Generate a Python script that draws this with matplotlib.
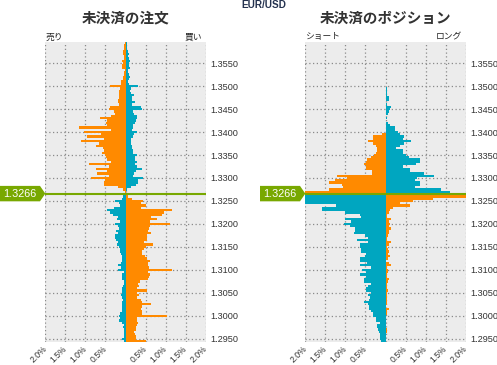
import numpy as np
import matplotlib.pyplot as plt
from matplotlib.patches import Polygon
from matplotlib.transforms import blended_transform_factory

plt.rcParams['font.family'] = ['Liberation Sans', 'Noto Sans CJK JP', 'DejaVu Sans']
JP = ['Noto Sans CJK JP', 'DejaVu Sans']

# ---- data -------------------------------------------------------------
current_price = 1.3266
step = 0.0005
# price buckets, listed from the top of the chart downwards
prices_above = np.round(np.arange(1.3595, 1.32695, -step), 4)   # 1.3595 .. 1.3270
prices_below = np.round(np.arange(1.3260, 1.29445, -step), 4)   # 1.3260 .. 1.2945

# open orders (%), left side = sell, right side = buy
order_sell_above = [0.02, 0.03, 0.03,
                    0.04, 0.06, 0.06, 0.03, 0.04, 0.08, 0.06, 0.08, 0.09, 0.02,
                    0.03, 0.04, 0.06, 0.06, 0.10, 0.12, 0.38, 0.13, 0.15, 0.15,
                    0.15, 0.17, 0.18, 0.18, 0.17, 0.39, 0.40, 0.29, 0.27, 0.35,
                    0.63, 0.45, 0.48, 0.45, 1.15, 0.36, 1.03, 0.60,
                    0.96, 0.54, 1.10,
                    0.65, 0.73, 0.56, 0.54, 0.58, 0.52, 0.49, 0.46, 0.35, 0.90,
                    0.40, 0.73, 0.46, 0.70, 0.40, 0.85, 0.51, 0.54, 0.53, 0.19,
                    0.05, 0.01]
order_buy_above = [0.03, 0.04, 0.04,
                   0.04, 0.07, 0.08, 0.07, 0.08, 0.10, 0.08, 0.08, 0.10, 0.07,
                   0.07, 0.09, 0.10, 0.08, 0.07, 0.08, 0.32, 0.13, 0.11, 0.14,
                   0.20, 0.15, 0.17, 0.23, 0.17, 0.38, 0.40, 0.19, 0.21, 0.28,
                   0.28, 0.25, 0.23, 0.19, 0.19, 0.17, 0.28, 0.22,
                   0.19, 0.13, 0.13,
                   0.13, 0.15, 0.17, 0.19, 0.19, 0.29, 0.23, 0.23, 0.29, 0.23,
                   0.28, 0.42, 0.25, 0.21, 0.19, 0.44, 0.32, 0.32, 0.25, 0.14,
                   0.04, 0.02]
order_sell_below = [0.05, 0.08, 0.25, 0.15, 0.13, 0.29, 0.46, 0.38, 0.32, 0.19,
                    0.21, 0.13, 0.25, 0.18, 0.15, 0.23, 0.19, 0.27, 0.25, 0.23,
                    0.19, 0.21, 0.15, 0.14, 0.13, 0.12, 0.08, 0.08, 0.09, 0.11,
                    0.18, 0.12,
                    0.18, 0.04, 0.08, 0.08, 0.08, 0.03, 0.04, 0.06, 0.08,
                    0.09, 0.08, 0.10, 0.09, 0.06, 0.08, 0.09, 0.08, 0.09, 0.08,
                    0.14, 0.15, 0.14, 0.16, 0.08, 0.04, 0.05,
                    0.04, 0.04, 0.04, 0.04, 0.08, 0.04]
order_buy_below = [0.07, 0.17, 0.44, 0.38, 0.50, 0.39, 1.15, 0.96, 0.92, 0.63,
                   0.79, 0.60, 1.10, 0.61, 0.58, 0.57, 0.63, 0.53, 0.53, 0.53,
                   0.46, 0.68, 0.50, 0.46, 0.42, 0.40, 0.48, 0.54, 0.61, 0.56,
                   0.57, 0.58,
                   1.15, 0.56, 0.61, 0.59, 0.57, 0.35, 0.32, 0.33, 0.29,
                   0.54, 0.29, 0.33, 0.28, 0.38, 0.42, 0.64, 0.42, 0.38, 0.42,
                   0.42, 1.04, 0.29, 0.28, 0.31, 0.28, 0.26,
                   0.25, 0.21, 0.23, 0.25, 0.27, 0.52]

# open positions (%), left side = short, right side = long
pos_short_above = [0.0] * 20 + [0.0] * 20 + [
    0.08, 0.31, 0.31, 0.43, 0.31, 0.24, 0.21, 0.21, 0.24, 0.29,
    0.37, 0.46, 0.48, 0.53, 0.48, 0.48, 0.33, 0.33, 1.20, 0.95,
    1.27, 1.42, 1.08, 1.06, 1.42, 2.05]
pos_long_above = [0.0] * 20 + [
    0.04, 0.04, 0.04, 0.04, 0.08, 0.08, 0.02, 0.03, 0.13, 0.11,
    0.09, 0.05, 0.01, 0.04, 0.01, 0.07, 0.11, 0.23, 0.23, 0.30,
    0.36, 0.46, 0.44, 0.63, 0.46, 0.36, 0.26, 0.43, 0.43, 0.51,
    0.58, 0.86, 0.86, 0.76, 0.44, 0.61, 0.61, 0.96, 1.21, 0.78,
    0.73, 0.86, 0.86, 0.73, 1.38, 1.61]
pos_short_below = [2.05, 2.05, 2.05, 2.05, 1.23, 1.58, 1.58, 1.02, 0.64, 0.62,
                   1.02, 0.85, 1.04, 0.89, 0.77, 0.77, 0.79, 0.52, 0.43, 0.71,
                   0.43, 0.64, 0.64, 0.60, 0.60, 0.49, 0.52, 0.64, 0.64, 0.45,
                   0.64, 0.35, 0.58, 0.48, 0.64, 0.48, 0.53, 0.53, 0.37, 0.43,
                   0.48, 0.48, 0.35, 0.43, 0.39, 0.41, 0.53, 0.43, 0.42, 0.42,
                   0.35, 0.31, 0.31, 0.23, 0.23, 0.14, 0.21, 0.21, 0.18, 0.16,
                   0.13, 0.14, 0.14, 0.10]
pos_long_below = [2.05, 1.19, 0.68, 0.36, 0.61, 0.18, 0.11, 0.08, 0.04, 0.04,
                  0.13, 0.09, 0.11, 0.09, 0.13, 0.09, 0.08, 0.07, 0.04, 0.03,
                  0.13, 0.08, 0.04, 0.07, 0.09, 0.07, 0.11, 0.07, 0.01, 0.08,
                  0.13, 0.04, 0.05, 0.05, 0.04, 0.04, 0.08, 0.05, 0.03, 0.03,
                  0.03, 0.05, 0.04, 0.03, 0.03, 0.03, 0.03, 0.03, 0.01, 0.08,
                  0.03, 0.03, 0.01, 0.01, 0.01, 0.01, 0.01, 0.01, 0.03, 0.03,
                  0.01, 0.01, 0.02, 0.00]

y_ticks = [1.2950, 1.3000, 1.3050, 1.3100, 1.3150, 1.3200, 1.3250,
           1.3300, 1.3350, 1.3400, 1.3450, 1.3500, 1.3550]
x_ticks = [-2.0, -1.5, -1.0, -0.5, 0.0, 0.5, 1.0, 1.5, 2.0]
x_labels = ['2.0%', '1.5%', '1.0%', '0.5%', '', '0.5%', '1.0%', '1.5%', '2.0%']

# ---- style ------------------------------------------------------------
ORANGE = '#ff8a00'
CYAN = '#00a6c0'
GREEN = '#78a800'
BG = '#ececec'
W, H = 497, 365
AX_W = 160.4

fig = plt.figure(figsize=(W / 100, H / 100), dpi=100)


def draw_panel(left_px, left_above, right_above, left_below, right_below,
               title, lbl_left, lbl_right):
    ax = fig.add_axes([left_px / W, 23 / H, AX_W / W, 300 / H])
    ax.set_facecolor(BG)
    # above current price: orange left / cyan right; below: the other way round
    ax.barh(prices_above, -np.array(left_above), height=step, color=ORANGE, lw=0)
    ax.barh(prices_above, right_above, height=step, color=CYAN, lw=0)
    ax.barh(prices_below, -np.array(left_below), height=step, color=CYAN, lw=0)
    ax.barh(prices_below, right_below, height=step, color=ORANGE, lw=0)
    ax.axhline(current_price, color=GREEN, lw=1.5)

    ax.set_xlim(-2.0, 2.0)
    ax.set_ylim(1.2943, 1.3596)
    ax.set_axisbelow(True)
    ax.grid(True, color='#8a8a8a', linestyle=(0, (1, 2)), lw=0.9)
    for s in ax.spines.values():
        s.set_visible(False)

    ax.yaxis.tick_right()
    ax.set_yticks(y_ticks)
    ax.set_yticklabels(['%.4f' % v for v in y_ticks])
    ax.set_xticks(x_ticks)
    ax.set_xticklabels(x_labels, rotation=45, ha='right', va='center',
                       rotation_mode='anchor')
    ax.tick_params(axis='y', length=0, pad=3, labelsize=6.6, labelcolor='#333333')
    ax.tick_params(axis='x', length=0, pad=4, labelsize=6.2, labelcolor='#333333')

    # current price marker
    tr = blended_transform_factory(ax.transAxes, ax.transData)
    hh = 0.00168
    x0, x1, xt = -45.3 / AX_W, -5.3 / AX_W, 0.0
    pts = [(x0, current_price - hh), (x1, current_price - hh), (xt, current_price),
           (x1, current_price + hh), (x0, current_price + hh)]
    ax.add_patch(Polygon(pts, closed=True, transform=tr, clip_on=False,
                         facecolor=GREEN, edgecolor='none'))
    ax.text((x0 + x1) / 2, current_price, '%.4f' % current_price, transform=tr,
            ha='center', va='center', color='white', fontsize=7.8)

    cx = (left_px + 80.2) / W
    fig.text(cx, 1 - 17.5 / H, title, ha='center', va='center', fontsize=10.5,
             fontweight='bold', color='#333333', family=JP)
    fig.text(left_px / W, 1 - 37 / H, lbl_left, ha='left', va='center',
             fontsize=6.3, color='#222222', family=JP)
    fig.text((left_px + 157) / W, 1 - 37 / H, lbl_right, ha='right', va='center',
             fontsize=6.3, color='#222222', family=JP)
    return ax


draw_panel(45.3, order_sell_above, order_buy_above, order_sell_below, order_buy_below,
           '未決済の注文', '売り', '買い')
draw_panel(305.3, pos_short_above, pos_long_above, pos_short_below, pos_long_below,
           '未決済のポジション', 'ショート', 'ロング')

fig.text(264 / W, 1 - 5 / H, 'EUR/USD', ha='center', va='center', fontsize=7.2,
         fontweight='bold', color='#24324f')

fig.savefig('out.png', dpi=100)
